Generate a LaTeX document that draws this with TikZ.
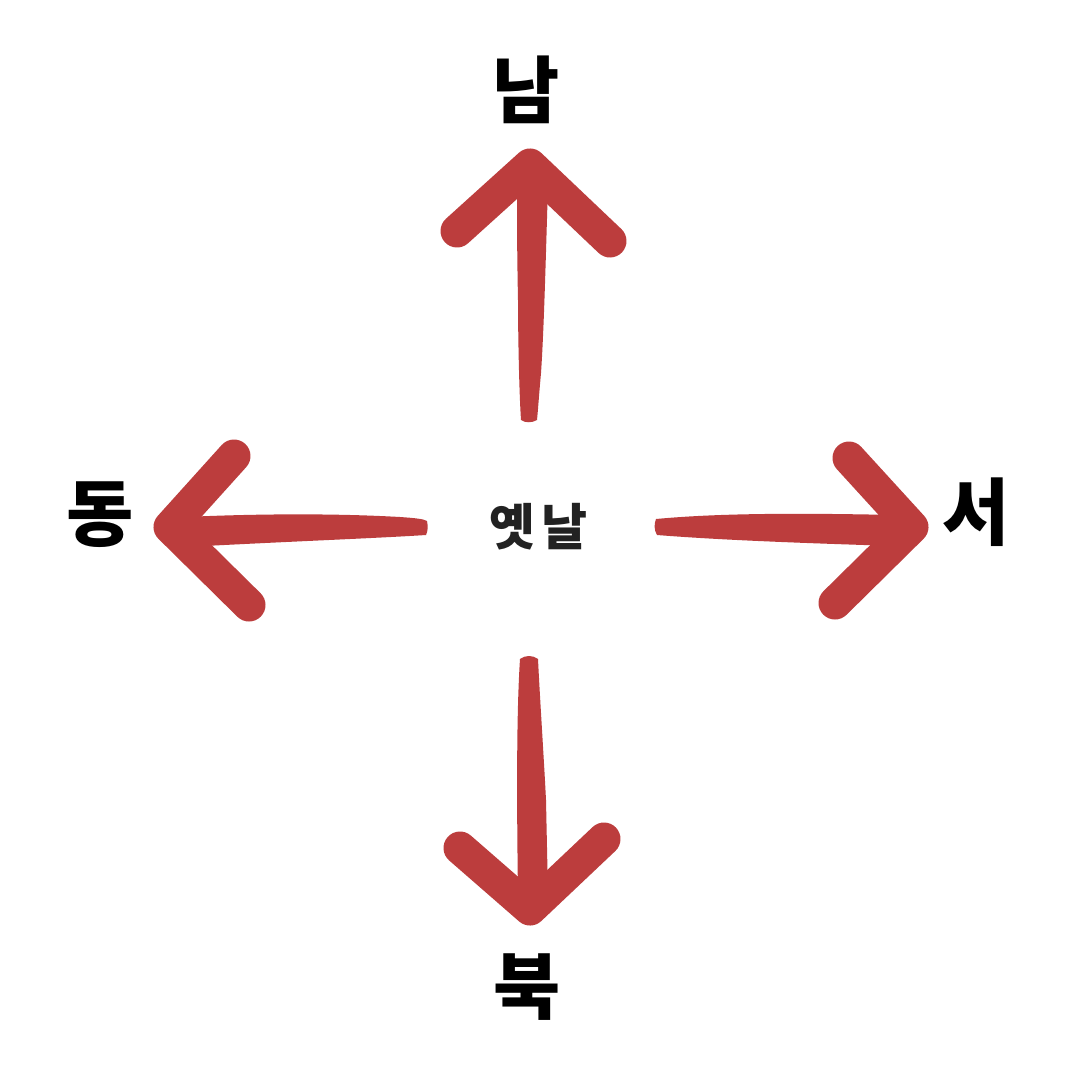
\documentclass[tikz,border=0pt]{standalone}
\usepackage{fontspec}
\usepackage{xcolor}
\newfontfamily\cjk{Noto Sans CJK KR}
\definecolor{brushred}{RGB}{188,61,61}
\definecolor{textgray}{RGB}{34,34,34}

\tikzset{
  brushhead/.style={draw=brushred, line width=33pt, line cap=round, line join=round},
  brushshaft/.style={fill=brushred},
  compass/.style={inner sep=0pt, font=\cjk\bfseries\fontsize{73}{73}\selectfont},
}

\begin{document}
\begin{tikzpicture}[x=1pt,y=1pt,yscale=-1,xscale=1]
    \useasboundingbox (0,0) rectangle (1080,1080);
    \fill[white] (0,0) rectangle (1080,1080);

    %Shape: Brush shaft up
    \fill[brushshaft] (517,185) -- (548,185) .. controls (546,250) and (544,330) .. (541,373) .. controls (539,395) and (538,410) .. (537,420) .. controls (532,423) and (525,423) .. (521,420) .. controls (519,390) and (518,330) .. (518,300) .. controls (517,250) and (517,220) .. (517,185) -- cycle ;
    %Shape: Brush head up
    \draw[brushhead] (457,231) -- (530,165) -- (610,241) ;

    %Shape: Brush shaft left
    \fill[brushshaft] (185,517) .. controls (250,514) and (330,513) .. (400,517) .. controls (415,518) and (424,519) .. (427,521) .. controls (428,526) and (428,531) .. (426,535) .. controls (380,538) and (300,541) .. (185,547) -- cycle ;
    %Shape: Brush head left
    \draw[brushhead] (234,456) -- (170,527) -- (249,605) ;

    %Shape: Brush shaft right
    \fill[brushshaft] (656,519) .. controls (720,513) and (800,513) .. (895,515) -- (895,546) .. controls (800,543) and (720,540) .. (657,535) .. controls (654,530) and (654,524) .. (656,519) -- cycle ;
    %Shape: Brush head right
    \draw[brushhead] (849,458) -- (912,527) -- (835,603) ;

    %Shape: Brush shaft down
    \fill[brushshaft] (520,659) .. controls (525,655) and (533,655) .. (538,659) .. controls (540,700) and (544,760) .. (546,800) -- (548,895) -- (518,895) .. controls (517,820) and (516,720) .. (520,659) -- cycle ;
    %Shape: Brush head down
    \draw[brushhead] (460,848) -- (530,909) -- (604,839) ;

    % Text Node
    \node[compass] (nam) at (526,90) {남};
    % Text Node
    \node[compass] (dong) at (100,515) {동};
    % Text Node
    \node[compass] (seo) at (976,512) {서};
    % Text Node
    \node[compass] (buk) at (527,987) {북};
    % Text Node
    \node[inner sep=0pt, text=textgray, font=\cjk\bfseries\fontsize{50}{50}\selectfont] (yetnal) at (538,527) {옛\hspace{6pt}날};

\end{tikzpicture}
\end{document}
